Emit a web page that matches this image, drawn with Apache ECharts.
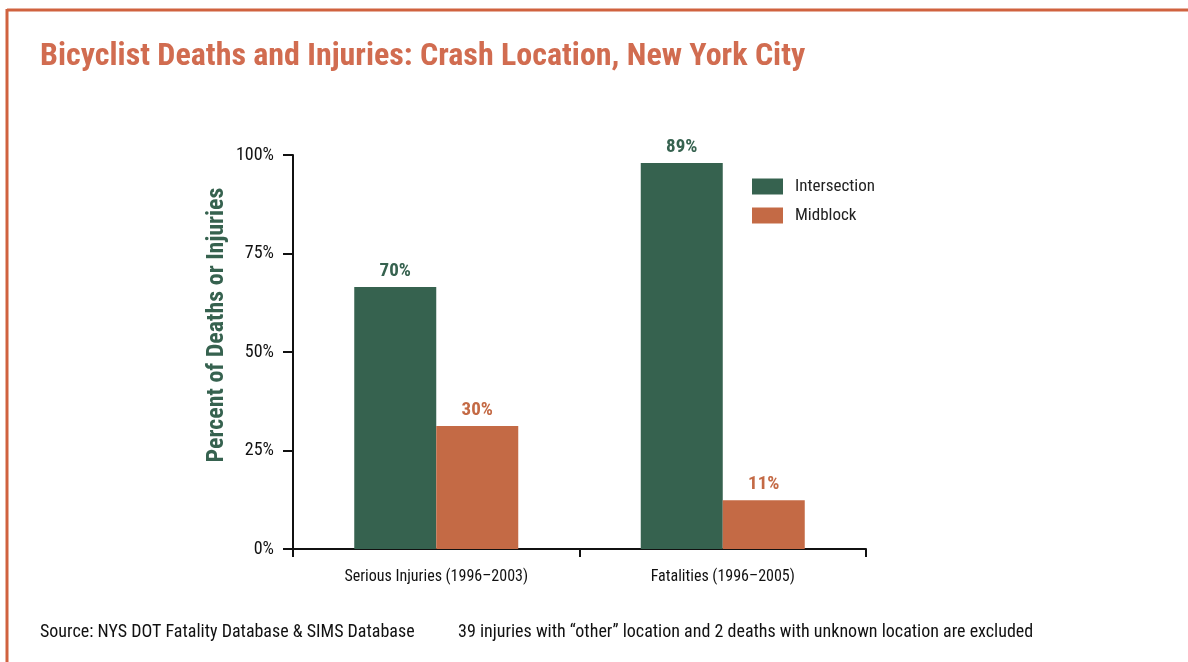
<!doctype html>
<html>
<head>
<meta charset="UTF-8">
<title>Bicyclist Deaths and Injuries: Crash Location, New York City</title>
<script src="https://cdn.jsdelivr.net/npm/echarts@6/dist/echarts.min.js"></script>
<style>
  html, body { margin: 0; padding: 0; background: #fff; }
  #main { width: 1188px; height: 662px; }
</style>
</head>
<body>
<div id="main"></div>
<script>
// data (bar heights as drawn, labels as printed)
var categories = ['Serious Injuries (1996\u20132003)', 'Fatalities (1996\u20132005)'];
var intersection = [66.5, 98];
var midblock = [31.2, 12.4];
var intersectionLabels = ['70%', '89%'];
var midblockLabels = ['30%', '11%'];
var yTicks = [0, 25, 50, 75, 100];

var FONT = '"Liberation Sans Narrow", "Arial Narrow", "Roboto Condensed", "Liberation Sans", sans-serif';
var GREEN = '#36624f';
var ORANGE = '#c46a45';
var FRAME = '#d0623f';

var myChart = echarts.init(document.getElementById('main'));

var option = {
    animation: false,
    textStyle: { fontFamily: FONT },
    title: {
        text: 'Bicyclist Deaths and Injuries: Crash Location, New York City',
        left: 35,
        top: 36,
        textStyle: { fontFamily: FONT, fontSize: 32, fontWeight: 'bold', color: '#d16c50' }
    },
    graphic: [
        // frame lines
        { type: 'line', shape: { x1: 7, y1: 10, x2: 1188, y2: 10 }, style: { stroke: FRAME, lineWidth: 3 } },
        { type: 'line', shape: { x1: 7, y1: 9, x2: 7, y2: 662 }, style: { stroke: FRAME, lineWidth: 3 } },
        {
            type: 'text', left: 40, top: 623,
            style: { text: 'Source: NYS DOT Fatality Database & SIMS Database', font: '18px ' + FONT, fill: '#111' }
        },
        {
            type: 'text', left: 458, top: 623,
            style: { text: '39 injuries with \u201cother\u201d location and 2 deaths with unknown location are excluded', font: '18px ' + FONT, fill: '#111' }
        }
    ],
    legend: {
        orient: 'vertical',
        left: 747,
        top: 173,
        itemWidth: 31,
        itemHeight: 16,
        itemGap: 12,
        icon: 'rect',
        textStyle: { fontFamily: FONT, fontSize: 17, color: '#222', padding: [0, 0, 0, 7] },
        data: ['Intersection', 'Midblock']
    },
    grid: { left: 293, right: 322, top: 155, bottom: 113 },
    xAxis: {
        type: 'category',
        data: categories,
        axisLine: { lineStyle: { color: '#111', width: 2 } },
        axisTick: { show: true, length: 8, lineStyle: { color: '#111', width: 2 } },
        axisLabel: { fontFamily: FONT, fontSize: 16, color: '#111', margin: 20 }
    },
    yAxis: {
        type: 'value',
        min: yTicks[0],
        max: yTicks[yTicks.length - 1],
        interval: 25,
        name: 'Percent of Deaths or Injuries',
        nameLocation: 'middle',
        nameGap: 64,
        nameTextStyle: { fontFamily: FONT, fontSize: 24, fontWeight: 'bold', color: GREEN, padding: [0, 0, 0, 54] },
        splitLine: { show: false },
        axisLine: { show: true, lineStyle: { color: '#111', width: 2 } },
        axisTick: { show: true, length: 10, lineStyle: { color: '#111', width: 2 } },
        axisLabel: { fontFamily: FONT, fontSize: 18, color: '#111', margin: 19, formatter: '{value}%' }
    },
    series: [
        {
            name: 'Intersection',
            type: 'bar',
            barWidth: 82,
            barGap: '0%',
            itemStyle: { color: GREEN },
            label: {
                show: true, position: 'top', distance: 6,
                fontFamily: FONT, fontSize: 19, fontWeight: 'bold', color: GREEN,
                formatter: function (p) { return intersectionLabels[p.dataIndex]; }
            },
            data: intersection
        },
        {
            name: 'Midblock',
            type: 'bar',
            barWidth: 82,
            barGap: '0%',
            itemStyle: { color: ORANGE },
            label: {
                show: true, position: 'top', distance: 6,
                fontFamily: FONT, fontSize: 19, fontWeight: 'bold', color: ORANGE,
                formatter: function (p) { return midblockLabels[p.dataIndex]; }
            },
            data: midblock
        }
    ]
};

myChart.setOption(option);
</script>
</body>
</html>
